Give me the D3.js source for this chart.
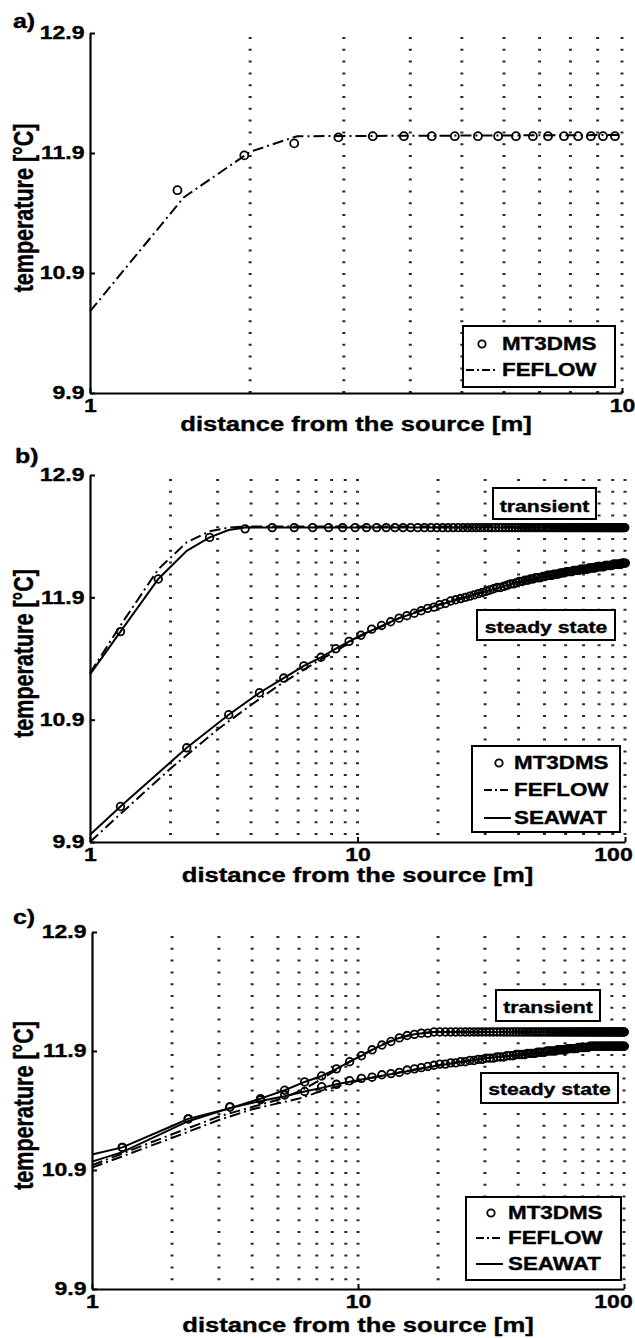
<!DOCTYPE html>
<html><head><meta charset="utf-8">
<script src="https://cdn.jsdelivr.net/npm/d3@7"></script>
<style>
body{margin:0;background:#fff}
svg{display:block}
text{font-family:"Liberation Sans",Arial,sans-serif;font-weight:bold;fill:#000;stroke:#000;stroke-width:0.35px}
</style>
</head><body>
<svg id="fig" width="635" height="1338"></svg>
<script>
// ---------------- DATA ----------------
const yTicks = [9.9, 10.9, 11.9, 12.9];
const xTicksA = [1, 10];
const xTicksBC = [1, 10, 100];
const gridA = [2, 3, 4, 5, 6, 7, 8, 9, 10];
const gridBC = [2, 3, 4, 5, 6, 7, 8, 9, 10, 20, 30, 40, 50, 60, 70, 80, 90, 100];

// panel a
const aMtX = [1.46,1.95,2.42,2.93,3.40,3.89,4.39,4.85,5.36,5.85,6.32,6.80,7.26,7.78,8.27,8.74,9.21,9.70];
const aMtY = [11.59,11.88,11.98,12.03,12.04,12.04,12.04,12.04,12.04,12.04,12.04,12.04,12.04,12.04,12.04,12.04,12.04,12.04];
const aFeX = [1, 1.5, 2, 2.45, 10];
const aFeY = [10.58, 11.53, 11.91, 12.04, 12.05];

// cell centres used by MT3DMS (panels b, c)
const xCells = [1.3,2.3,3.3,4.3,5.3,6.3,7.3,8.3,9.3,10.3,11.3,12.3,13.3,14.3,15.3,16.3,17.3,18.3,19.3,20.3,21.3,22.3,23.3,24.3,25.3,26.3,27.3,28.3,29.3,30.3,31.3,32.3,33.3,34.3,35.3,36.3,37.3,38.3,39.3,40.3,41.3,42.3,43.3,44.3,45.3,46.3,47.3,48.3,49.3,50.3,51.3,52.3,53.3,54.3,55.3,56.3,57.3,58.3,59.3,60.3,61.3,62.3,63.3,64.3,65.3,66.3,67.3,68.3,69.3,70.3,71.3,72.3,73.3,74.3,75.3,76.3,77.3,78.3,79.3,80.3,81.3,82.3,83.3,84.3,85.3,86.3,87.3,88.3,89.3,90.3,91.3,92.3,93.3,94.3,95.3,96.3,97.3,98.3,99.3,100.3];
const xCellsBtr = [1.3,1.8,2.8,3.8,4.8,5.8,6.8,7.8,8.8,9.8,10.8,11.8,12.8,13.8,14.8,15.8,16.8,17.8,18.8,19.8,20.8,21.8,22.8,23.8,24.8,25.8,26.8,27.8,28.8,29.8,30.8,31.8,32.8,33.8,34.8,35.8,36.8,37.8,38.8,39.8,40.8,41.8,42.8,43.8,44.8,45.8,46.8,47.8,48.8,49.8,50.8,51.8,52.8,53.8,54.8,55.8,56.8,57.8,58.8,59.8,60.8,61.8,62.8,63.8,64.8,65.8,66.8,67.8,68.8,69.8,70.8,71.8,72.8,73.8,74.8,75.8,76.8,77.8,78.8,79.8,80.8,81.8,82.8,83.8,84.8,85.8,86.8,87.8,88.8,89.8,90.8,91.8,92.8,93.8,94.8,95.8,96.8,97.8,98.8,99.8];

// panel b
const bMtTrY = [11.62,12.05,12.39,12.46,12.47,12.47,12.47,12.47,12.47,12.47,12.47,12.47,12.47,12.47,12.47,12.47,12.47,12.47,12.47,12.47,12.47,12.47,12.47,12.47,12.47,12.47,12.47,12.47,12.47,12.47,12.47,12.47,12.47,12.47,12.47,12.47,12.47,12.47,12.47,12.47,12.47,12.47,12.47,12.47,12.47,12.47,12.47,12.47,12.47,12.47,12.47,12.47,12.47,12.47,12.47,12.47,12.47,12.47,12.47,12.47,12.47,12.47,12.47,12.47,12.47,12.47,12.47,12.47,12.47,12.47,12.47,12.47,12.47,12.47,12.47,12.47,12.47,12.47,12.47,12.47,12.47,12.47,12.47,12.47,12.47,12.47,12.47,12.47,12.47,12.47,12.47,12.47,12.47,12.47,12.47,12.47,12.47,12.47,12.47,12.47];
const bMtSsY = [10.19,10.67,10.94,11.12,11.24,11.34,11.41,11.48,11.54,11.59,11.64,11.67,11.70,11.73,11.75,11.77,11.79,11.81,11.82,11.84,11.85,11.87,11.88,11.89,11.90,11.91,11.92,11.93,11.94,11.95,11.96,11.97,11.98,11.98,11.99,12.00,12.01,12.01,12.02,12.03,12.03,12.04,12.04,12.05,12.05,12.06,12.06,12.06,12.07,12.07,12.08,12.08,12.08,12.09,12.09,12.09,12.10,12.10,12.10,12.11,12.11,12.11,12.11,12.12,12.12,12.12,12.12,12.13,12.13,12.13,12.13,12.13,12.14,12.14,12.14,12.14,12.14,12.15,12.15,12.15,12.15,12.15,12.15,12.16,12.16,12.16,12.16,12.16,12.16,12.17,12.17,12.17,12.17,12.17,12.17,12.17,12.18,12.18,12.18,12.18];
const bSwTrX = [1, 1.3, 1.8, 2.3, 2.8, 3.3, 3.8, 4.8, 100];
const bSwTrY = [11.27, 11.62, 12.05, 12.28, 12.39, 12.45, 12.47, 12.47, 12.47];
const bFeTrX = [1, 1.3, 1.8, 2.3, 2.8, 3.3, 3.8, 100];
const bFeTrY = [11.28, 11.67, 12.13, 12.35, 12.44, 12.47, 12.48, 12.48];
const bSwSsX = [1, 1.3, 2.3, 3.3, 4.3, 5.3, 6.3, 7.3, 8.3, 10.3, 14.3, 20.3, 30.3, 40.3, 50.3, 60.3, 80.3, 100];
const bSwSsY = [9.96, 10.19, 10.67, 10.94, 11.12, 11.24, 11.34, 11.41, 11.48, 11.59, 11.73, 11.84, 11.95, 12.03, 12.07, 12.11, 12.15, 12.18];
const bFeSsX = [1, 1.3, 2, 3, 4, 5, 6, 7, 8, 10, 15, 20, 30, 50, 100];
const bFeSsY = [9.90, 10.13, 10.50, 10.82, 11.02, 11.17, 11.28, 11.37, 11.44, 11.57, 11.75, 11.84, 11.95, 12.07, 12.18];

// panel c
const cMtTrY = [11.09,11.33,11.43,11.50,11.57,11.64,11.69,11.75,11.81,11.86,11.91,11.95,11.98,12.01,12.03,12.04,12.05,12.05,12.06,12.06,12.06,12.06,12.06,12.06,12.06,12.06,12.06,12.06,12.06,12.06,12.06,12.06,12.06,12.06,12.06,12.06,12.06,12.06,12.06,12.06,12.06,12.06,12.06,12.06,12.06,12.06,12.06,12.06,12.06,12.06,12.06,12.06,12.06,12.06,12.06,12.06,12.06,12.06,12.06,12.06,12.06,12.06,12.06,12.06,12.06,12.06,12.06,12.06,12.06,12.06,12.06,12.06,12.06,12.06,12.06,12.06,12.06,12.06,12.06,12.06,12.06,12.06,12.06,12.06,12.06,12.06,12.06,12.06,12.06,12.06,12.06,12.06,12.06,12.06,12.06,12.06,12.06,12.06,12.06,12.06];
const cMtSsY = [11.09,11.33,11.43,11.49,11.53,11.56,11.60,11.62,11.65,11.67,11.68,11.70,11.71,11.72,11.74,11.75,11.76,11.77,11.78,11.79,11.79,11.80,11.80,11.81,11.81,11.82,11.82,11.83,11.83,11.84,11.84,11.84,11.85,11.85,11.85,11.86,11.86,11.86,11.87,11.87,11.87,11.87,11.88,11.88,11.88,11.88,11.89,11.89,11.89,11.89,11.90,11.90,11.90,11.90,11.90,11.91,11.91,11.91,11.91,11.91,11.92,11.92,11.92,11.92,11.92,11.92,11.93,11.93,11.93,11.93,11.93,11.93,11.93,11.94,11.94,11.94,11.94,11.94,11.94,11.94,11.94,11.94,11.94,11.94,11.94,11.94,11.94,11.94,11.94,11.94,11.94,11.94,11.94,11.94,11.94,11.94,11.94,11.94,11.94,11.94];
const cSwSsX = [1, 1.3, 2, 2.3, 3.3, 4.3, 5.3, 6.3, 7.3, 8.3, 10.3, 15.3, 20.3, 30.3, 50.3, 100];
const cSwSsY = [11.03, 11.09, 11.27, 11.33, 11.42, 11.48, 11.52, 11.56, 11.59, 11.62, 11.66, 11.73, 11.78, 11.84, 11.89, 11.94];
const cSwTrX = [1, 1.3, 2.3, 3.3, 4.3, 5.3, 6.3, 7.3, 8.3, 9.3, 10.3, 11.3, 12.3, 14.3, 16.3, 19.3, 100];
const cSwTrY = [10.97, 11.05, 11.31, 11.42, 11.50, 11.57, 11.64, 11.69, 11.75, 11.81, 11.86, 11.91, 11.95, 12.01, 12.04, 12.06, 12.06];
const cFeSsX = [1, 2, 3, 4, 5, 6, 7, 8, 10, 15, 20, 30, 50, 100];
const cFeSsY = [10.92, 11.17, 11.32, 11.41, 11.46, 11.50, 11.55, 11.59, 11.65, 11.73, 11.78, 11.84, 11.89, 11.94];
const cFeTrX = [1, 2, 3, 4, 5, 6, 7, 8, 9, 10, 12, 14, 16, 19, 100];
const cFeTrY = [10.94, 11.20, 11.35, 11.43, 11.49, 11.56, 11.64, 11.72, 11.79, 11.85, 11.94, 12.01, 12.04, 12.06, 12.06];

const legendA = ["MT3DMS", "FEFLOW"];
const legendBC = ["MT3DMS", "FEFLOW", "SEAWAT"];
const xLabel = "distance from the source [m]";
const yLabel = "temperature [°C]";

// ---------------- DRAWING ----------------
const SX = 1.28;           // horizontal glyph stretch of the original figure
const DASHDOT = "11,4,2,4";
const svg = d3.select("#fig");

function stext(g, x, y, str, size, anchor) {
  return g.append("text")
    .attr("transform", `translate(${x},${y}) scale(${SX},1)`)
    .attr("text-anchor", anchor || "start")
    .style("font-size", size + "px")
    .text(str);
}

const panels = [
  { letter: "a)", lx: 13, ly: 28, x0: 90, x1: 622, xmax: 10, yTop: 33, yBot: 393,
    grid: gridA, xt: xTicksA, xlabY: 431, ylabX: 33, r: 4,
    circles: [[aMtX, aMtY]], solid: [], dash: [[aFeX, aFeY]],
    legend: { items: legendA, box: [463, 326, 615, 387], rows: [344, 370], sym: [466, 496], circ: 482, tx: 502 },
    notes: [], last: null },
  { letter: "b)", lx: 15, ly: 463, x0: 90, x1: 625, xmax: 100, yTop: 475, yBot: 842,
    grid: gridBC, xt: xTicksBC, xlabY: 882, ylabX: 33, r: 3.8,
    circles: [[xCellsBtr, bMtTrY], [xCells, bMtSsY]],
    solid: [[bSwTrX, bSwTrY], [bSwSsX, bSwSsY]],
    dash: [[bFeTrX, bFeTrY], [bFeSsX, bFeSsY]],
    legend: { items: legendBC, box: [472, 746, 620, 832], rows: [763, 790, 818], sym: [484, 511], circ: 499, tx: 514 },
    notes: [["transient", 493, 488, 596, 519, 512], ["steady state", 477, 610, 615, 640, 633]], last: 613 },
  { letter: "c)", lx: 13, ly: 924, x0: 92, x1: 624, xmax: 100, yTop: 932, yBot: 1289,
    grid: gridBC, xt: xTicksBC, xlabY: 1332, ylabX: 33, r: 3.8,
    circles: [[xCells, cMtTrY], [xCells, cMtSsY]],
    solid: [[cSwTrX, cSwTrY], [cSwSsX, cSwSsY]],
    dash: [[cFeTrX, cFeTrY], [cFeSsX, cFeSsY]],
    legend: { items: legendBC, box: [466, 1197, 621, 1280], rows: [1213, 1238, 1264], sym: [476, 503], circ: 491, tx: 508 },
    notes: [["transient", 496, 990, 600, 1021, 1013], ["steady state", 481, 1073, 618, 1103, 1095]], last: 613 }
];

panels.forEach(p => {
  const x = d3.scaleLog().domain([1, p.xmax]).range([p.x0, p.x1]);
  const y = d3.scaleLinear().domain([9.9, 12.9]).range([p.yBot, p.yTop]);
  const g = svg.append("g");

  // vertical dotted grid
  g.append("g").selectAll("line").data(p.grid).join("line")
    .attr("x1", d => x(d)).attr("x2", d => x(d))
    .attr("y1", p.yTop + 4).attr("y2", p.yBot)
    .attr("stroke", "#2a2a2a").attr("stroke-width", 3)
    .attr("stroke-dasharray", "2,9.8");

  const line = d3.line().x(d => x(d[0])).y(d => y(d[1]));
  p.dash.forEach(s => g.append("path").datum(d3.zip(s[0], s[1]))
    .attr("d", line).attr("fill", "none").attr("stroke", "#000")
    .attr("stroke-width", 2).attr("stroke-dasharray", DASHDOT));
  p.solid.forEach(s => g.append("path").datum(d3.zip(s[0], s[1]))
    .attr("d", line).attr("fill", "none").attr("stroke", "#000")
    .attr("stroke-width", 2));
  p.circles.forEach(s => g.append("g").selectAll("circle").data(d3.zip(s[0], s[1])).join("circle")
    .attr("cx", d => x(d[0])).attr("cy", d => y(d[1])).attr("r", p.r)
    .attr("fill", "none").attr("stroke", "#000").attr("stroke-width", 1.8));

  // axes
  const ax = g.append("g").attr("transform", `translate(0,${p.yBot})`)
    .call(d3.axisBottom(x).tickValues(p.xt).tickFormat(d3.format("d"))
      .tickSizeInner(-5).tickSizeOuter(0).tickPadding(6));
  const ay = g.append("g").attr("transform", `translate(${p.x0},0)`)
    .call(d3.axisLeft(y).tickValues(yTicks).tickFormat(d3.format(".1f"))
      .tickSizeInner(-5).tickSizeOuter(0).tickPadding(5.5));
  [ax, ay].forEach(a => {
    a.select(".domain").attr("stroke", "#000").attr("stroke-width", 2.2);
    a.selectAll(".tick line").attr("stroke", "#000").attr("stroke-width", 2);
    a.selectAll(".tick text").attr("fill", "#000")
      .style("font-size", "18px").style("font-family", '"Liberation Sans",Arial,sans-serif')
      .style("font-weight", "bold");
  });
  ay.selectAll(".tick text").attr("x", -5.5 / SX).attr("transform", `scale(${SX},1)`);
  ax.selectAll(".tick text").attr("transform", `scale(${SX},1)`);
  if (p.last) {
    ax.selectAll(".tick").filter(d => d === 100).select("text")
      .attr("x", (p.last - x(100)) / SX);
  }

  // labels
  stext(g, p.lx, p.ly, p.letter, 19.5, "start");
  stext(g, (p.x0 + p.x1) / 2, p.xlabY, xLabel, 20, "middle");
  g.append("text")
    .attr("transform", `translate(${p.ylabX},${(p.yTop + p.yBot) / 2 - 5}) scale(${SX},1) rotate(-90)`)
    .attr("text-anchor", "middle").style("font-size", "21.5px").text(yLabel);

  // annotation boxes
  p.notes.forEach(n => {
    g.append("rect").attr("x", n[1]).attr("y", n[2]).attr("width", n[3] - n[1]).attr("height", n[4] - n[2])
      .attr("fill", "#fff").attr("stroke", "#000").attr("stroke-width", 2);
    stext(g, (n[1] + n[3]) / 2, n[5], n[0], 16.6, "middle");
  });

  // legend
  const L = p.legend;
  g.append("rect").attr("x", L.box[0]).attr("y", L.box[1])
    .attr("width", L.box[2] - L.box[0]).attr("height", L.box[3] - L.box[1])
    .attr("fill", "#fff").attr("stroke", "#000").attr("stroke-width", 2);
  L.items.forEach((name, i) => {
    const cy = L.rows[i];
    if (name === "MT3DMS") {
      g.append("circle").attr("cx", L.circ).attr("cy", cy).attr("r", 3.7)
        .attr("fill", "none").attr("stroke", "#000").attr("stroke-width", 1.8);
    } else {
      g.append("line").attr("x1", L.sym[0]).attr("x2", L.sym[1]).attr("y1", cy).attr("y2", cy)
        .attr("stroke", "#000").attr("stroke-width", 2)
        .attr("stroke-dasharray", name === "FEFLOW" ? "8,3,2,3" : null);
    }
    stext(g, L.tx, cy + 6.3, name, 17.5, "start");
  });
});
</script>
</body></html>
